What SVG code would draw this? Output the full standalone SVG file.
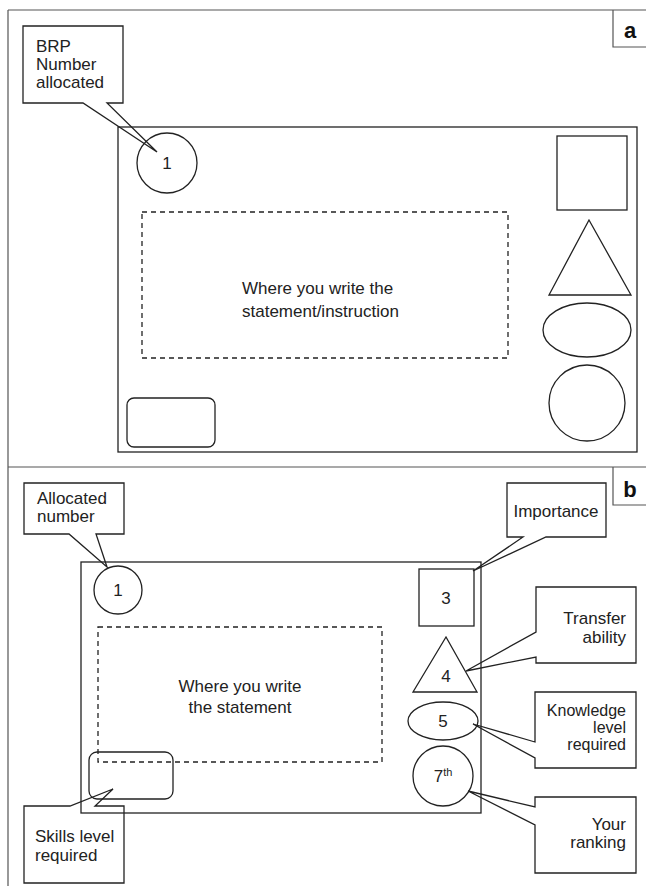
<svg xmlns="http://www.w3.org/2000/svg" width="646" height="891" viewBox="0 0 646 891">
<style>
.frame{fill:none;stroke:#555;stroke-width:1.2}
.s{fill:none;stroke:#222;stroke-width:1.3}
.d{fill:none;stroke:#222;stroke-width:1.3;stroke-dasharray:5,4}
.t{font-family:"Liberation Sans","Open Sans",Arial,sans-serif;font-size:17px;fill:#222}
.k{font-size:16px}
.m{text-anchor:middle}
.e{text-anchor:end}
.lbl{font-family:"Liberation Sans",Arial,sans-serif;font-size:22px;font-weight:bold;fill:#111;text-anchor:middle}
</style>
<rect width="646" height="891" fill="#fff"/>
<g id="frame">
<path class="frame" d="M8,10 H646 M8,10 V886 M8,467 H646"/>
<path class="frame" d="M613,10 V47 H646 M613,467 V505 H646"/>
<text class="lbl" x="630" y="38">a</text>
<text class="lbl" x="630" y="497">b</text>
</g>
<!-- Panel a -->
<g id="card-a"><rect class="s" x="118" y="127" width="519" height="325"/></g>
<g id="a-circle1"><circle class="s" cx="167" cy="163" r="30"/><text class="t m" x="167" y="169">1</text></g>
<g id="a-statement"><rect class="d" x="142" y="212" width="366" height="146"/>
<text class="t" x="242" y="294">Where you write the</text>
<text class="t" x="242" y="317">statement/instruction</text></g>
<g id="a-square"><rect class="s" x="557" y="136" width="70" height="74"/></g>
<g id="a-triangle"><polygon class="s" points="589,220 549,295 631,295"/></g>
<g id="a-ellipse"><ellipse class="s" cx="587" cy="330" rx="44" ry="27"/></g>
<g id="a-circle"><circle class="s" cx="587" cy="403" r="38"/></g>
<g id="a-roundrect"><rect class="s" x="127" y="398" width="88" height="49" rx="7"/></g>
<g id="a-callout-brp">
<text class="t" x="36" y="52">BRP</text>
<text class="t" x="36" y="70">Number</text>
<text class="t" x="36" y="88">allocated</text>
</g>
<!-- Panel b -->
<g id="card-b"><rect class="s" x="81" y="562" width="400" height="251"/></g>
<g id="b-circle1"><circle class="s" cx="118" cy="590" r="24"/><text class="t m" x="118" y="596">1</text></g>
<g id="b-statement"><rect class="d" x="98" y="627" width="284" height="135"/>
<text class="t m" x="240" y="692">Where you write</text>
<text class="t m" x="240" y="713">the statement</text></g>
<g id="b-roundrect"><rect class="s" x="89" y="752" width="84" height="47" rx="8"/></g>
<g id="b-square3"><rect class="s" x="419" y="569" width="55" height="57"/><text class="t m" x="446" y="604">3</text></g>
<g id="b-triangle4"><polygon class="s" points="446,637 413,692 477,692"/><text class="t m" x="446" y="682">4</text></g>
<g id="b-ellipse5"><ellipse class="s" cx="443" cy="721" rx="35" ry="19"/><text class="t m" x="443" y="727">5</text></g>
<g id="b-circle7"><circle class="s" cx="443" cy="776" r="30"/><text class="t m" x="443" y="782">7<tspan font-size="11" dy="-6">th</tspan></text></g>
<g id="b-callout-allocated">
<text class="t" x="37" y="504">Allocated</text>
<text class="t" x="37" y="522">number</text>
</g>
<g id="b-callout-skills">
<text class="t" x="35" y="842">Skills level</text>
<text class="t" x="35" y="861">required</text>
</g>
<g id="b-callout-importance">
<text class="t m" x="556" y="517">Importance</text>
</g>
<g id="b-callout-transfer">
<text class="t e" x="626" y="624">Transfer</text>
<text class="t e" x="626" y="643">ability</text>
</g>
<g id="b-callout-knowledge">
<text class="t k e" x="626" y="716">Knowledge</text>
<text class="t k e" x="626" y="733">level</text>
<text class="t k e" x="626" y="750">required</text>
</g>
<g id="b-callout-ranking">
<text class="t e" x="626" y="830">Your</text>
<text class="t e" x="626" y="848">ranking</text>
</g>
<g id="connectors">
<path class="s" d="M23,26 H123 V103 H107 L157,152 L83,103 H23 Z"/>
<path class="s" d="M24,483 H124 V534 H96 L107,567 L69,534 H24 Z"/>
<path class="s" d="M24,806 H70 L113,789 L95,806 H124 V883 H24 Z"/>
<path class="s" d="M507,483 H606 V537 H546 L473,571 L523,537 H507 Z"/>
<path class="s" d="M536,587 H636 V663 H536 V657 L466,671 L536,632 Z"/>
<path class="s" d="M535,692 H636 V768 H535 V758 L473,724 L535,742 Z"/>
<path class="s" d="M535,797 H636 V873 H535 V825 L468,791 L535,807 Z"/>
</g>
</svg>
